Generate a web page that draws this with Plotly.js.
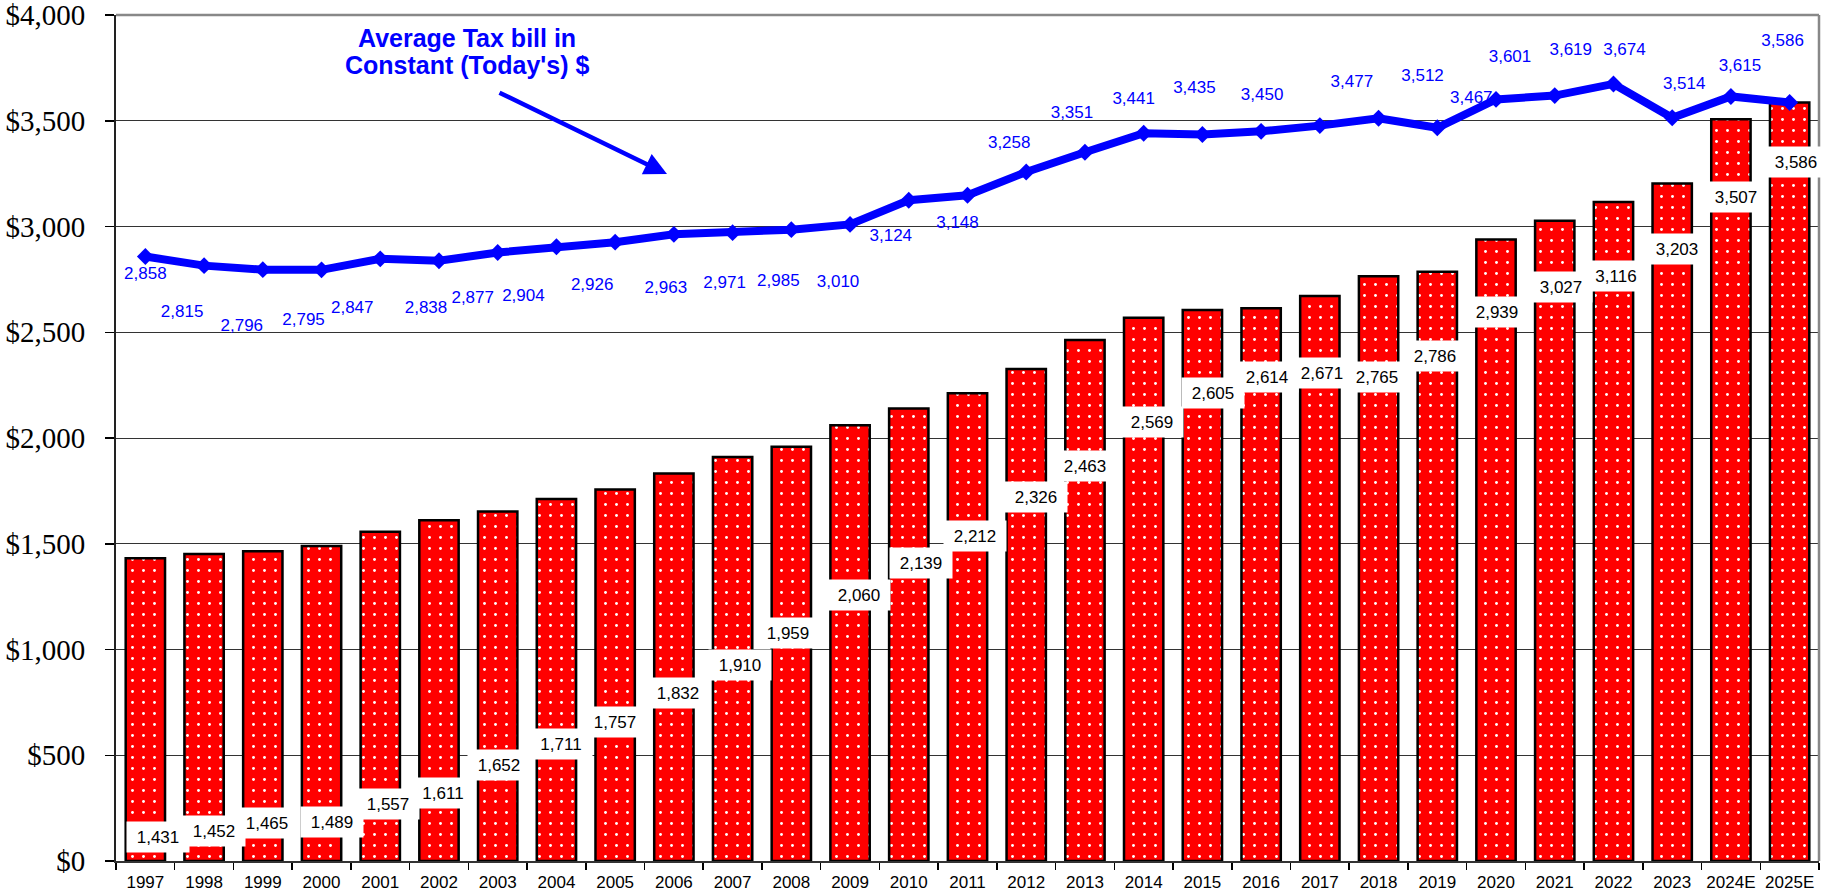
<!DOCTYPE html>
<html>
<head>
<meta charset="utf-8">
<script src="https://cdn.plot.ly/plotly-3.0.1.min.js"></script>
<style>html,body{margin:0;padding:0;background:#fff;}#chart{width:1838px;height:893px;}</style>
</head>
<body>
<div id="chart"></div>
<script>
// ---- data ----
const years = ["1997","1998","1999","2000","2001","2002","2003","2004","2005","2006","2007","2008","2009","2010","2011","2012","2013","2014","2015","2016","2017","2018","2019","2020","2021","2022","2023","2024E","2025E"];
const avgTaxBill = [1431,1452,1465,1489,1557,1611,1652,1711,1757,1832,1910,1959,2060,2139,2212,2326,2463,2569,2605,2614,2671,2765,2786,2939,3027,3116,3203,3507,3586];
const constantDollars = [2858,2815,2796,2795,2847,2838,2877,2904,2926,2963,2971,2985,3010,3124,3148,3258,3351,3441,3435,3450,3477,3512,3467,3601,3619,3674,3514,3615,3586];
const annotationLines = ["Average Tax bill in", "Constant (Today's) $"];

// ---- label placement (as in the original, in pixels / axis units) ----
const barLabelDx = [13,10,4,10,8,4,1,5,0,4,7,-3,9,12,7,10,0,8,11,6,2,-2,-2,1,6,3,5,5,6];
const barLabelLevel = [113,142,180,184,270,322,454,553,657,794,927,1078,1258,1409,1537,1721,1868,2076,2213,2288,2307,2288,2388,2596,2714,2766,2894,3139,3305];
const lineLabelDx = [0,-22,-21,-18,-28,-13,-25,-33,-23,-8,-8,-13,-12,-18,-10,-17,-13,-10,-8,1,32,44,34,14,16,11,12,9,-7];
const lineLabelDy = [18,47,57,51,50,48,46,50,44,54,51,52,58,36,29,-28,-39,-33,-46,-36,-43,-41,-29,-42,-45,-33,-33,-30,-61];

const W = 1838, H = 893;
const M = {l:116, r:19, t:15, b:32, pad:0};
const plotW = W - M.l - M.r, plotH = H - M.t - M.b;
const yMax = 4000;
const pxPerCat = plotW / years.length;
const pxPerUnit = plotH / yMax;

const idx = years.map((_, i) => i);
const fmt = v => v.toLocaleString('en-US');
const yTicks = [0,500,1000,1500,2000,2500,3000,3500,4000];

const bars = {
  type: 'bar', x: idx, y: avgTaxBill, width: 0.67,
  marker: {
    color: '#FF0000',
    line: {color: '#000', width: 2.5},
    pattern: {shape: '.', fgcolor: '#FFFFFF', bgcolor: '#FF0000', size: 11, solidity: 0.055, fillmode: 'replace'}
  },
  hoverinfo: 'skip', showlegend: false
};

const lineLabels = {
  type: 'scatter', mode: 'text',
  x: idx.map(i => i + lineLabelDx[i] / pxPerCat),
  y: constantDollars.map((v, i) => v - lineLabelDy[i] / pxPerUnit),
  text: constantDollars.map(fmt),
  textposition: 'middle center',
  textfont: {family: 'Liberation Sans, Arial, sans-serif', size: 17, color: '#0000FF'},
  hoverinfo: 'skip', showlegend: false, cliponaxis: false
};

const line = {
  type: 'scatter', mode: 'lines+markers', x: idx, y: constantDollars,
  line: {color: '#0000FF', width: 8},
  marker: {symbol: 'diamond', size: 13, color: '#0000FF'},
  hoverinfo: 'skip', showlegend: false, cliponaxis: false
};

const annotations = avgTaxBill.map((v, i) => ({
  x: i, y: barLabelLevel[i], xref: 'x', yref: 'y', xshift: barLabelDx[i],
  text: fmt(v), showarrow: false, xanchor: 'center', yanchor: 'middle',
  bgcolor: '#FFFFFF', borderpad: 5, width: 52, height: 20,
  font: {family: 'Liberation Sans, Arial, sans-serif', size: 17, color: '#000'}
}));
[38, 65].forEach((py, k) => annotations.push({
  xref: 'paper', yref: 'paper', x: (467 - M.l) / plotW, y: 1 - (py - M.t) / plotH,
  text: '<b>' + annotationLines[k] + '</b>', showarrow: false, xanchor: 'center', yanchor: 'middle', align: 'center',
  font: {family: 'Liberation Sans, Arial, sans-serif', size: 25, color: '#0000FF'}
}));
annotations.push({
  xref: 'paper', yref: 'paper', x: (667 - M.l) / plotW, y: 1 - (174 - M.t) / plotH,
  ax: -169, ay: -82, text: '', showarrow: true,
  arrowhead: 2, arrowsize: 1, arrowwidth: 4.5, arrowcolor: '#0000FF', standoff: 0, startstandoff: 0
});

const layout = {
  width: W, height: H, margin: M,
  paper_bgcolor: '#fff', plot_bgcolor: '#fff',
  showlegend: false, bargap: 0.33,
  xaxis: {
    type: 'linear', range: [-0.5, years.length - 0.5],
    tickmode: 'array', tickvals: idx, ticktext: years, ticks: '',
    tickfont: {family: 'Liberation Sans, Arial, sans-serif', size: 17, color: '#000'},
    showgrid: false, zeroline: false, showline: true, linecolor: '#333', linewidth: 2,
    minor: {tickmode: 'linear', tick0: 0.5, dtick: 1, ticks: 'outside', ticklen: 7, tickwidth: 1.5, tickcolor: '#000', showgrid: false},
    ticklabelstandoff: 5, fixedrange: true
  },
  yaxis: {
    range: [0, yMax], tickmode: 'array', tickvals: yTicks, ticktext: yTicks.map(v => '$' + fmt(v)),
    ticks: 'outside', ticklen: 9, tickcolor: '#000', tickwidth: 1.5, ticklabeloverflow: 'allow',
    tickfont: {family: 'Liberation Serif, Times New Roman, serif', size: 29, color: '#000'},
    showgrid: true, gridcolor: '#333', gridwidth: 1, zeroline: false,
    showline: true, linecolor: '#222', linewidth: 2, ticklabelstandoff: 14, fixedrange: true
  },
  shapes: [
    {type: 'line', xref: 'paper', yref: 'paper', x0: 0, x1: 1, y0: 1, y1: 1, line: {color: '#888', width: 2.5}},
    {type: 'line', xref: 'paper', yref: 'paper', x0: 1, x1: 1, y0: 0, y1: 1, line: {color: '#888', width: 2.5}}
  ],
  annotations: annotations
};

Plotly.newPlot('chart', [bars, lineLabels, line], layout, {displayModeBar: false, staticPlot: true});
</script>
</body>
</html>
